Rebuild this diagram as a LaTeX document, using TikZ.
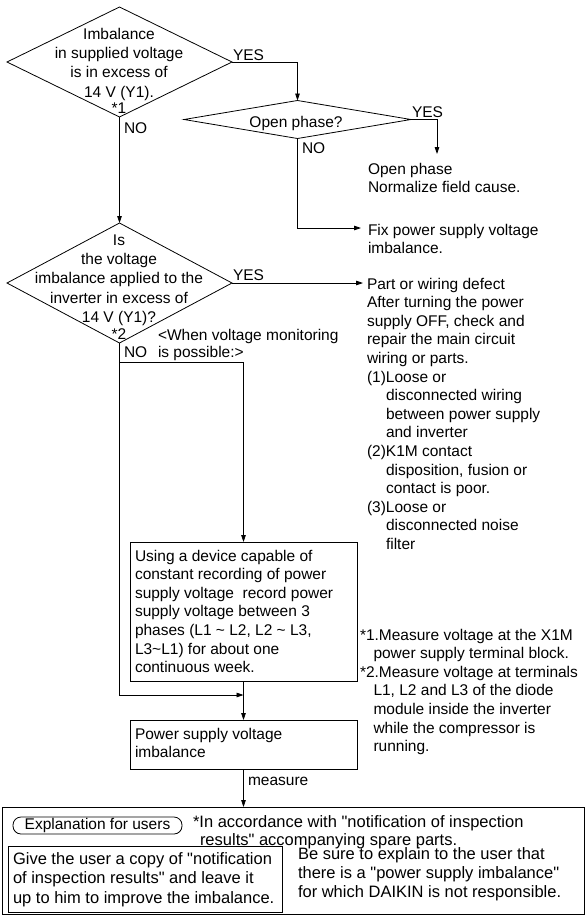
\documentclass[tikz,border=0pt]{standalone}
\usepackage{fontspec}
\setmainfont{Liberation Sans}[Ligatures=TeXOff]
\usetikzlibrary{shapes.geometric,arrows.meta}
\newcommand{\fsz}{\fontsize{15.5}{18.6}\selectfont}
\newcommand{\fsd}{\fontsize{15.5}{19.4}\selectfont}
\newcommand{\fsb}{\fontsize{16.5}{19.3}\selectfont}
\begin{document}
\begin{tikzpicture}[x=1pt,y=-1pt,
  line width=0.8pt,
  every node/.style={font=\fsz, inner sep=0pt, outer sep=0pt},
  txt/.style={anchor=base west, align=left},
  ctr/.style={anchor=base, align=center, font=\fsd},
  dia/.style={draw, diamond, inner sep=0pt, outer sep=0pt},
  bx/.style={draw, rectangle, anchor=north west},
  arr/.style={-{Triangle[length=7pt,width=4.6pt]}},
  ]
\useasboundingbox (0,0) rectangle (586,916);
% note: for multi-line texts the base anchor is the baseline of the last line

% decisions
\node[dia, minimum width=225pt, minimum height=110pt] (d1) at (119.5,62) {};
\node[ctr] (d1t) at (119,97.2) {Imbalance\\in supplied voltage\\is in excess of\\14 V (Y1).};
\node[ctr] (d1n) at (119,113) {*1};
\node[txt] (d1yes) at (233,60) {YES};
\node[txt] (d1no) at (124,133) {NO};

\node[dia, minimum width=227pt, minimum height=38pt] (d2) at (297.5,119.5) {};
\node[ctr] (d2t) at (296,127) {Open phase?};
\node[txt] (d2yes) at (412,117) {YES};
\node[txt] (d2no) at (302,153) {NO};

\node[dia, minimum width=225pt, minimum height=120pt] (d3) at (119.5,283) {};
\node[ctr] (d3t) at (119,322.6) {Is\\the voltage\\imbalance applied to the\\inverter in excess of\\14 V (Y1)?};
\node[ctr] (d3n) at (119,339) {*2};
\node[txt] (d3yes) at (233,280) {YES};
\node[txt] (d3no) at (124,357) {NO};
\node[txt, font=\fontsize{15.5}{17}\selectfont] (when) at (158,357) {<When voltage monitoring\\is possible:>};

% results
\node[txt] (opt) at (368,192.6) {Open phase\\Normalize field cause.};
\node[txt] (fix) at (368,253.6) {Fix power supply voltage\\imbalance.};
\node[txt] (part) at (367,549.4) {Part or wiring defect\\After turning the power\\supply OFF, check and\\repair the main circuit\\wiring or parts.\\(1)Loose or\\\hspace*{19pt}disconnected wiring\\\hspace*{19pt}between power supply\\\hspace*{19pt}and inverter\\(2)K1M contact\\\hspace*{19pt}disposition, fusion or\\\hspace*{19pt}contact is poor.\\(3)Loose or\\\hspace*{19pt}disconnected noise\\\hspace*{19pt}filter};

\coordinate (opa) at (437,154);
\coordinate (fxa) at (361,228);
\coordinate (pwa) at (363,283);

% boxes
\node[bx, minimum width=227pt, minimum height=139pt] (b1) at (130,542) {};
\node[txt] (b1t) at (135,672.6) {Using a device capable of\\constant recording of power\\supply voltage~ record power\\supply voltage between 3\\phases (L1 \textasciitilde\ L2, L2 \textasciitilde\ L3,\\L3\textasciitilde L1) for about one\\continuous week.};
\node[bx, minimum width=227pt, minimum height=49pt] (b2) at (130,720) {};
\node[txt] (b2t) at (135,757.6) {Power supply voltage\\imbalance};
\node[txt] (meas) at (248,785) {measure};

\node[txt] (notes) at (360,751.6) {*1.Measure voltage at the X1M\\\hspace*{13.5pt}power supply terminal block.\\{}*2.Measure voltage at terminals\\\hspace*{13.5pt}L1, L2 and L3 of the diode\\\hspace*{13.5pt}module inside the inverter\\\hspace*{13.5pt}while the compressor is\\\hspace*{13.5pt}running.};

% bottom
\node[bx, minimum width=582pt, minimum height=107pt] (big) at (2,807) {};
\node[bx, rounded corners=8pt, minimum width=169pt, minimum height=17pt] (expl) at (13,817) {};
\node at (expl.center) (explt) {Explanation for users};
\node[txt, font=\fontsize{16.5}{18}\selectfont] (acc) at (193,845) {*In accordance with "notification of inspection\\\hspace*{7pt}results" accompanying spare parts.};
\node[bx, minimum width=274pt, minimum height=66pt] (give) at (8,846) {};
\node[txt, font=\fontsize{16.5}{19.5}\selectfont] (givet) at (13,903) {Give the user a copy of "notification\\of inspection results" and leave it\\up to him to improve the imbalance.};
\node[txt, font=\fontsize{16.5}{19}\selectfont] (sure) at (298,897) {Be sure to explain to the user that\\there is a "power supply imbalance"\\for which DAIKIN is not responsible.};

% connectors
\draw[arr] (d1.east) -| (d2.north);
\draw[arr] (d2.east) -| (opa);
\draw[arr] (d2.south) |- (fxa);
\draw[arr] (d1.south) -- (d3.north);
\draw[arr] (d3.east) -- (pwa);
\coordinate (m1) at (b1.south |- 0,695);
\draw[arr] (d3.south) |- (m1);
\coordinate (br) at (120,362);
\draw[arr] (br) -| (b1.north);
\draw[arr] (b1.south) -- (b2.north);
\draw[arr] (b2.south) -- (b2.south |- big.north);
\end{tikzpicture}
\end{document}
